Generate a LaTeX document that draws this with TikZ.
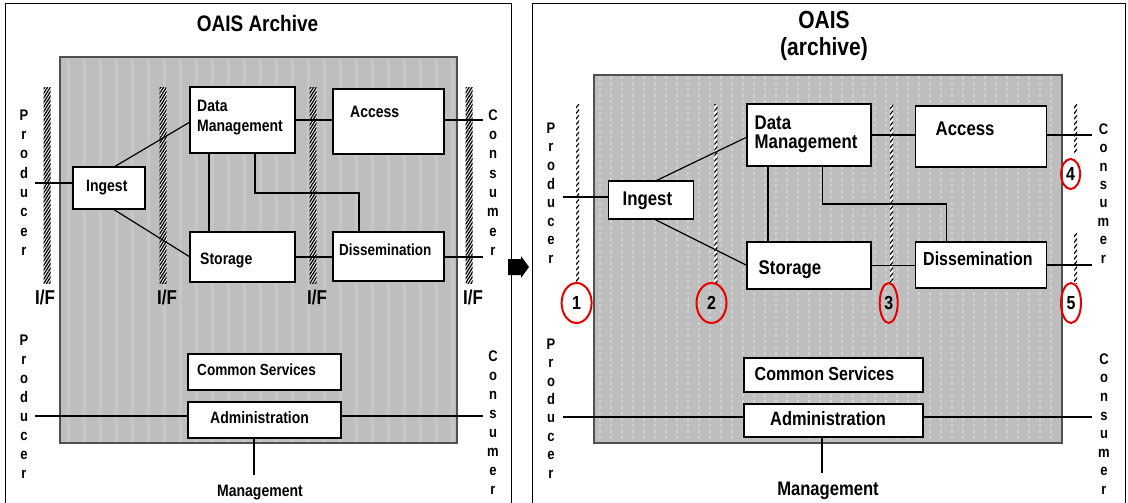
\documentclass[tikz,border=0pt]{standalone}
\usepackage{graphicx}
\usepackage{fontspec}
\setmainfont{Liberation Sans}
\usetikzlibrary{patterns.meta,shapes.geometric}

\newcommand{\setfs}[1]{\fontsize{#1}{#1}\selectfont}
% the lettering is set slightly taller than the font's own proportions
\newcommand{\tl}[1]{\scalebox{1}[1.18]{#1}}
% vertical word: name prefix, x, first centre y, step, letters
\newcommand{\vertword}[5]{%
  \foreach \ch [count=\k from 0] in {#5}
    \node[vl] (#1\k) at (#2,{#3+\k*#4}) {\tl{\ch}};}

\begin{document}
\begin{tikzpicture}[x=1pt,y=-1pt,
  box/.style={draw=black, fill=white, line width=1.3pt, inner sep=0, outer sep=0},
  lbl/.style={inner sep=0, anchor=west, text height={0.85*#1}, text depth=0pt, font=\bfseries\setfs{#1}},
  ctr/.style={lbl=#1, anchor=center},
  vl/.style={inner sep=0, text height=10.5pt, text depth=0pt, font=\bfseries\setfs{13}},
  conn/.style={line width=1.2pt, black},
  frame/.style={line width=1pt, black},
  archfill/.style={fill={rgb,255:red,190;green,190;blue,190}},
  archedge/.style={draw={rgb,255:red,80;green,80;blue,80}, line width=1.5pt},
  vstripe/.style={draw={rgb,255:red,199;green,199;blue,199}, line width=3pt},
  dstripe/.style={draw={rgb,255:red,210;green,210;blue,210}, line width=1.5pt, dash pattern=on 3pt off 3pt},
  hatchbar/.style={fill=white, postaction={pattern={Lines[angle=58,distance=2.4pt,line width=1.3pt]}, pattern color=black}},
  thinbar/.style={fill=white, postaction={pattern={Lines[angle=50,distance=3.6pt,line width=1.2pt]}, pattern color=black}},
  ring/.style={ellipse, draw={rgb,255:red,230;green,0;blue,0}, line width=2pt, inner sep=0, font=\bfseries\setfs{16}}
]
\useasboundingbox (0,0) rectangle (1128,503);

% ---------------- left panel: OAIS Archive ----------------
\draw[frame] (5,504) -- (5,4) -- (511,4) -- (511,504);
\node[ctr=19] (Ltitle) at (257.5,23) {\tl{OAIS Archive}};

\fill[archfill] (60,57) rectangle (457,443);
\foreach \x in {68,84,...,452} \draw[vstripe] (\x,58) -- (\x,442);
\draw[archedge] (60,57) rectangle (457,443);

% interface bars
\foreach \x in {47,163,313,469}
  \path[hatchbar] (\x-3.5,88) rectangle (\x+3.5,283);
\node[ctr=17] (LIF1) at (45,297) {\tl{I/F}};
\node[ctr=17] (LIF2) at (167,297) {\tl{I/F}};
\node[ctr=17] (LIF3) at (317,297) {\tl{I/F}};
\node[ctr=17] (LIF4) at (473,297) {\tl{I/F}};

% functional entities
\node[box, minimum width=105, minimum height=66] (LDM)  at (242.5,120) {};
\node[box, minimum width=111, minimum height=65] (LAcc) at (388.5,121.5) {};
\node[box, minimum width=72,  minimum height=42] (LIng) at (109,188) {};
\node[box, minimum width=105, minimum height=50] (LSto) at (242.5,257) {};
\node[box, minimum width=111, minimum height=49] (LDis) at (388.5,256.5) {};
\node[box, minimum width=153, minimum height=36] (LCS)  at (264.5,372) {};
\node[box, minimum width=153, minimum height=36] (LAdm) at (264.5,420) {};

\node[lbl=14] (tLDM1) at (197,106) {\tl{Data}};
\node[lbl=14] (tLDM2) at (197,126) {\tl{Management}};
\node[lbl=14] (tLAcc) at (350,112) {\tl{Access}};
\node[lbl=14] (tLIng) at (86,186) {\tl{Ingest}};
\node[lbl=14] (tLSto) at (200,259) {\tl{Storage}};
\node[lbl=13.5] (tLDis) at (339,250) {\tl{Dissemination}};
\node[lbl=13.6] (tLCS)  at (197,370) {\tl{Common Services}};
\node[lbl=14] (tLAdm) at (210,418) {\tl{Administration}};
\node[ctr=14] (tLMg)  at (260,491) {\tl{Management}};

% external parties
\vertword{LP}{24}{115}{19.3}{P,r,o,d,u,c,e,r}
\vertword{LC}{493}{115}{19.3}{C,o,n,s,u,m,e,r}
\vertword{LPb}{24}{340}{19}{P,r,o,d,u,c,e,r}
\vertword{LCb}{493}{356}{19.1}{C,o,n,s,u,m,e,r}

\coordinate (LpI) at (35,183);
\coordinate (LcA) at (483,120);
\coordinate (LcD) at (483,257);
\coordinate (LpA) at (35,416);
\coordinate (LcM) at (483,416);
\coordinate (LmB) at (254,475);

% connectors
\draw[conn] (LpI) -- (LpI -| LIng.west);
\draw[conn] ([xshift=5pt]LIng.north) -- ([yshift=-2pt]LDM.west);
\draw[conn] ([xshift=4pt]LIng.south) -- (LSto.west);
\draw[conn] ([xshift=-33.5pt]LDM.south) -- ([xshift=-33.5pt]LSto.north);
\draw[conn] ([xshift=12.5pt]LDM.south) -- ++(0,40) -| ([xshift=-29.5pt]LDis.north);
\draw[conn] (LDM.east) -- (LDM.east -| LAcc.west);
\draw[conn] (LSto.east) -- (LSto.east -| LDis.west);
\draw[conn] (LAcc.east |- LcA) -- (LcA);
\draw[conn] (LDis.east |- LcD) -- (LcD);
\draw[conn] (LpA) -- (LpA -| LAdm.west);
\draw[conn] (LAdm.east |- LcM) -- (LcM);
\draw[conn] (LmB |- LAdm.south) -- (LmB);

% arrow between the two panels
\fill[black] (508,259) -- (521,259) -- (521,256) -- (529,267) -- (521,278) -- (521,275) -- (508,275) -- cycle;

% ---------------- right panel: OAIS (archive) ----------------
\draw[frame] (532,504) -- (532,4) -- (1125,4) -- (1125,504);
\node[ctr=21] (Rtitle1) at (824,20) {\tl{OAIS}};
\node[ctr=21] (Rtitle2) at (824,47) {\tl{(archive)}};

\fill[archfill] (594,75) rectangle (1062,443);
\foreach \x in {600,611,...,1056} \draw[dstripe] (\x,76) -- (\x,442);
\draw[archedge] (594,75) rectangle (1062,443);

% interface marks
\path[thinbar] (576,105) rectangle (579,283);
\path[thinbar] (714.3,105) rectangle (717.3,283);
\path[thinbar] (890,105) rectangle (893,283);
\path[thinbar] (1074,105) rectangle (1077,153);
\path[thinbar] (1074,233) rectangle (1077,283);

\node[ring, minimum width=30, minimum height=40] (n1) at (576.6,303) {\tl{1}};
\node[ring, minimum width=30, minimum height=40] (n2) at (711.5,303) {\tl{2}};
\node[ring, minimum width=18, minimum height=40] (n3) at (888.7,303) {\tl{3}};
\node[ring, minimum width=19, minimum height=30] (n4) at (1070.6,174) {\tl{4}};
\node[ring, minimum width=20, minimum height=40] (n5) at (1071,303) {\tl{5}};

\node[box, minimum width=124, minimum height=62] (RDM)  at (809,135) {};
\node[box, minimum width=131, minimum height=61] (RAcc) at (981,136.5) {};
\node[box, minimum width=85,  minimum height=38] (RIng) at (651,200) {};
\node[box, minimum width=124, minimum height=47] (RSto) at (809,265.5) {};
\node[box, minimum width=131, minimum height=46] (RDis) at (981,265) {};
\node[box, minimum width=179, minimum height=34] (RCS)  at (833.5,375) {};
\node[box, minimum width=179, minimum height=33] (RAdm) at (833.5,420.5) {};

\node[lbl=16.8] (tRDM1) at (754.5,122) {\tl{Data}};
\node[lbl=16.8] (tRDM2) at (754.5,141) {\tl{Management}};
\node[lbl=16.8] (tRAcc) at (935.5,128) {\tl{Access}};
\node[lbl=16.8] (tRIng) at (622.5,198) {\tl{Ingest}};
\node[lbl=16.8] (tRSto) at (758.5,267) {\tl{Storage}};
\node[lbl=16]   (tRDis) at (923,259) {\tl{Dissemination}};
\node[lbl=16]   (tRCS)  at (754.5,374) {\tl{Common Services}};
\node[lbl=16.4] (tRAdm) at (770,419) {\tl{Administration}};
\node[ctr=16.6] (tRMg)  at (828,488) {\tl{Management}};

\vertword{RP}{551}{128}{18.6}{P,r,o,d,u,c,e,r}
\vertword{RC}{1103.5}{129}{18.4}{C,o,n,s,u,m,e,r}
\vertword{RPb}{551}{344}{18.4}{P,r,o,d,u,c,e,r}
\vertword{RCb}{1104}{359}{18.6}{C,o,n,s,u,m,e,r}

\coordinate (RpI) at (563,197);
\coordinate (RcA) at (1092,135);
\coordinate (RcD) at (1092,265);
\coordinate (RpA) at (563,417);
\coordinate (RcM) at (1092,417);
\coordinate (RmB) at (822,473);

\draw[conn] (RpI) -- (RpI -| RIng.west);
\draw[conn] ([xshift=4.5pt]RIng.north) -- ([yshift=-2pt]RDM.west);
\draw[conn] ([xshift=3pt]RIng.south) -- (RSto.west);
\draw[conn] ([xshift=-41pt]RDM.south) -- ([xshift=-41pt]RSto.north);
\draw[conn] ([xshift=13.4pt]RDM.south) -- ++(0,38) -| ([xshift=-34.5pt]RDis.north);
\draw[conn] (RDM.east) -- (RDM.east -| RAcc.west);
\draw[conn] (RSto.east) -- (RSto.east -| RDis.west);
\draw[conn] (RAcc.east |- RcA) -- (RcA);
\draw[conn] (RDis.east |- RcD) -- (RcD);
\draw[conn] (RpA) -- (RpA -| RAdm.west);
\draw[conn] (RAdm.east |- RcM) -- (RcM);
\draw[conn] (RmB |- RAdm.south) -- (RmB);
\end{tikzpicture}
\end{document}
